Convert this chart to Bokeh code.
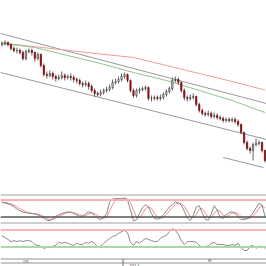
from bokeh.plotting import figure
from bokeh.layouts import column
from bokeh.models import Range1d, Span, ColumnDataSource
from bokeh.core.properties import value
from bokeh.embed import file_html
from bokeh.resources import INLINE

# ---------------- data ----------------
close = [157,158,156,152,150,150,148,142,149,150,
         148,142,146,135,126,125,127,124,122,123,
         125,123,124,123,121,120,117,116,117,114,
         110,107,106,108,110,111,113,118,119,121,
         124,126,120,110,105,110,111,112,113,102,
         102,103,102,103,106,109,112,120,121,118,
         110,103,102,103,104,96,90,87,86,87,
         84,85,83,82,80,81,80,81,79,76,
         68,58,52,50,56,57,58,50,40]
open_ = [156,157,158,156,152,150,150,148,142,149,
         150,148,142,146,135,126,125,127,124,122,
         123,125,123,124,123,121,120,117,116,117,
         114,110,107,106,108,110,111,113,118,119,
         121,124,126,120,110,105,110,111,112,113,
         102,102,103,102,103,106,109,112,120,121,
         118,110,103,102,103,104,96,90,87,86,
         87,84,85,83,82,80,81,80,81,79,
         76,68,58,52,50,56,57,58,50]
high = [159,160,159,157,154,153,152,150,151,152,
        152,149,148,147,137,129,130,129,126,126,
        129,127,126,127,125,123,122,119,120,119,
        116,112,109,111,112,114,116,121,122,124,
        127,128,127,121,112,112,113,114,115,114,
        105,105,105,106,108,111,114,123,124,123,
        119,112,105,106,107,105,98,92,89,90,
        89,88,87,85,84,83,83,83,83,81,
        77,69,60,54,58,62,60,59,51]
low = [154,155,154,150,148,147,146,140,140,147,
       145,139,140,133,124,122,123,121,119,120,
       121,120,121,120,118,117,115,113,114,111,
       108,104,104,104,106,108,109,111,116,117,
       119,122,118,108,103,103,107,109,110,100,
       99,100,100,100,101,104,107,110,118,116,
       108,100,99,100,101,94,88,85,84,84,
       82,82,81,80,78,78,78,78,77,74,
       66,56,50,47,40,54,55,48,38]

ma_idx = [0, 11, 22, 33, 44, 55, 66, 77, 88]
ma_slow = [157.5, 153.8, 150.2, 146.5, 143, 135, 127, 119, 110.5]
ma_fast = [157, 153, 145, 137, 128, 120, 110, 100, 88]

chan_idx = [-0.5, 88.5]
chan_upper = [167, 97]
chan_lower = [128, 61]
trend_idx = [74, 87.5]
trend_low = [43, 33]

stoch_k = [74,70,66,63,56,48,42,37,35,33,
           32,30,27,22,15,8,7,15,22,28,
           32,36,38,36,32,27,22,22,32,38,
           35,24,15,10,18,32,72,84,86,85,
           84,88,80,45,6,10,32,52,64,55,
           32,14,12,16,28,42,55,64,73,70,
           62,40,16,7,26,55,60,35,12,8,
           30,60,44,18,15,28,36,38,32,22,
           10,11,14,22,34,52,68,62,22]
stoch_d = [70,72,70,66,62,56,49,43,38,35,
           33,32,30,26,21,15,10,10,15,22,
           27,32,35,37,35,32,27,24,25,31,
           35,32,25,16,14,20,41,63,80,85,
           85,86,84,71,44,20,16,31,49,57,
           50,34,19,14,19,29,42,54,64,69,
           68,57,39,21,16,29,47,50,36,18,
           17,33,45,41,26,20,26,34,35,31,
           21,14,12,16,23,36,51,61,51]
stoch_levels = [80, 20]

rsi = [57,52,48,43,45,43,45,43,45,45,
       43,36,34,32,27,29,29,32,34,41,
       39,41,39,36,34,39,36,36,41,39,
       43,39,29,32,39,45,50,55,57,62,
       66,69,64,41,34,43,39,45,50,48,
       45,43,43,50,55,57,66,73,69,60,
       45,36,43,43,43,41,34,29,32,32,
       39,41,36,36,36,34,34,36,34,39,
       29,22,22,32,34,27,32,32,27]
rsi_levels = [70, 30]

tier_labels = ["05", "M"]
tier_pos = [8, 69.5]
year_label = "2013"
year_pos = 40.5

# ---------------- drawing ----------------
n = len(close)
idx = list(range(n))
up = [c >= o for c, o in zip(close, open_)]
src = ColumnDataSource(dict(
    x=idx, o=open_, c=close, h=high, l=low,
    fill=["#e6e6e6" if u else "#a01515" for u in up],
    line=["#2a2a2a" if u else "#6e0000" for u in up],
))

xr = Range1d(-0.5, n - 0.5)
common = dict(width=266, toolbar_location=None, output_backend="svg",
              x_range=xr, x_axis_type=None, y_axis_type=None,
              min_border=0, outline_line_color=None,
              background_fill_color="white", border_fill_color="white")

main = figure(height=194, y_range=Range1d(6, 200), **common)
main.line(chan_idx, chan_upper, line_color="#9a9a9a", line_width=1)
main.line(chan_idx, chan_lower, line_color="#9a9a9a", line_width=1)
main.line(trend_idx, trend_low, line_color="#9a9a9a", line_width=1)
main.line(ma_idx, ma_slow, line_color="#f29a9a", line_width=1)
main.line(ma_idx, ma_fast, line_color="#8fc48f", line_width=1)
main.segment(x0="x", y0="h", x1="x", y1="l", source=src, line_color="#3a3a3a", line_width=0.8)
main.vbar(x="x", top="o", bottom="c", width=0.45, source=src,
          fill_color="fill", line_color="line", line_width=0.6)

sto = figure(height=28, y_range=Range1d(0, 100), **common)
sto.add_layout(Span(location=100, dimension="width", line_color="#a0a0a0", line_width=2))
sto.add_layout(Span(location=stoch_levels[0], dimension="width", line_color="#f6b0b0", line_width=2))
sto.add_layout(Span(location=stoch_levels[1], dimension="width", line_color="#555555", line_width=1.5))
sto.line(idx, stoch_d, line_color="#f08a8a", line_width=1)
sto.line(idx, stoch_k, line_color="#8a8a8a", line_width=1)

rs = figure(height=34, y_range=Range1d(8, 87.5), **common)
rs.add_layout(Span(location=87.5, dimension="width", line_color="#a0a0a0", line_width=2))
rs.add_layout(Span(location=rsi_levels[0], dimension="width", line_color="#f6a0a0", line_width=1.5))
rs.add_layout(Span(location=rsi_levels[1], dimension="width", line_color="#a8d8a8", line_width=2))
rs.line(idx, rsi, line_color="#8a8a8a", line_width=1)

ax = figure(height=10, y_range=Range1d(0, 10), **common)
ax.add_layout(Span(location=10, dimension="width", line_color="#909090", line_width=2))
ax.add_layout(Span(location=5.5, dimension="width", line_color="#909090", line_width=1))
ax.add_layout(Span(location=year_pos, dimension="height", line_color="#707070", line_width=1))
ax.text(x=tier_pos, y=[6.0, 6.0], text=tier_labels, text_font=value("DejaVu Sans"),
        text_font_size="4px", text_color="#555555", text_align="center", text_baseline="bottom")
ax.text(x=[year_pos + 2], y=[2.0], text=[year_label], text_font=value("DejaVu Sans"),
        text_font_size="4px", text_color="#555555", text_align="left", text_baseline="bottom")

for f in (main, sto, rs, ax):
    f.grid.visible = False

layout = column(main, sto, rs, ax, spacing=0)
open("out.html", "w").write(file_html(layout, INLINE))
